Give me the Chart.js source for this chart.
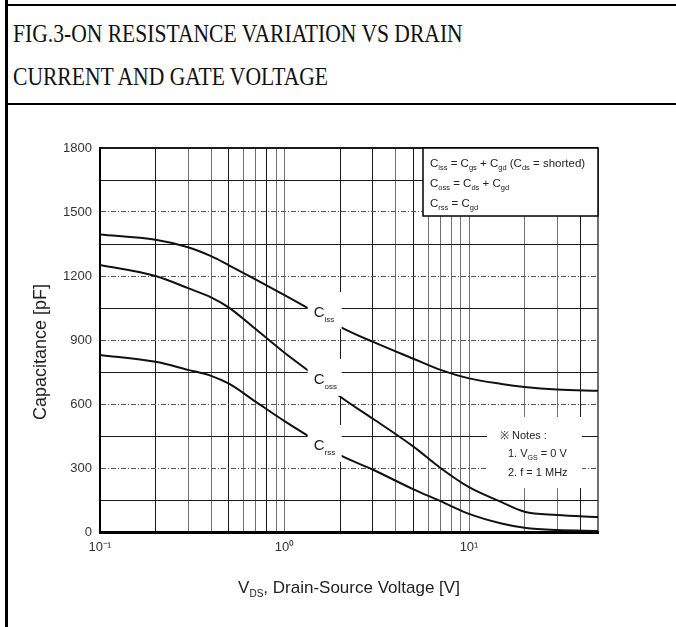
<!DOCTYPE html>
<html lang="en">
<head>
<meta charset="UTF-8">
<title>Capacitance Characteristics</title>
<script src="https://cdn.jsdelivr.net/npm/chart.js"></script>
<style>
  html, body { margin: 0; padding: 0; background: #fff; width: 676px; height: 627px; overflow: hidden; }
  .frame { position: absolute; left: 5px; top: 0; width: 671px; height: 627px; border-left: 3px solid #000; }
  .rule { position: absolute; left: 5px; right: 0; height: 2px; background: #000; }
  .title {
    position: absolute; left: 13px; margin: 0;
    font-family: "Liberation Serif", "Times New Roman", serif; font-size: 26px; line-height: 26px;
    color: #111; white-space: nowrap; transform: scaleX(0.83); transform-origin: left center;
  }
  .chart-box { position: absolute; left: 8px; top: 106px; width: 668px; height: 521px; }
</style>
</head>
<body>
  <div class="frame"></div>
  <div class="rule" style="top:4px"></div>
  <div class="rule" style="top:103px"></div>
  <div class="title" style="top:21px">FIG.3-ON RESISTANCE VARIATION VS DRAIN</div>
  <div class="title" style="top:64px">CURRENT AND GATE VOLTAGE</div>
  <div class="chart-box"><canvas id="capChart" width="668" height="521"></canvas></div>

<script>
  // V_DS [V] and capacitances [pF]
  const voltage = [0.1, 0.2, 0.3, 0.4, 0.5, 0.7, 1, 1.5, 2, 3, 5, 7, 10, 15, 20, 30, 50];
  const ciss = [1395, 1370, 1335, 1293, 1250, 1183, 1110, 1025, 962, 892, 812, 760, 720, 694, 680, 668, 662];
  const coss = [1252, 1200, 1143, 1100, 1052, 950, 840, 725, 635, 532, 400, 300, 210, 140, 95, 80, 70];
  const crss = [830, 798, 760, 732, 695, 610, 520, 425, 360, 293, 200, 145, 85, 40, 20, 9, 5];

  // axis ticks
  const xGrid = [0.1, 0.2, 0.3, 0.4, 0.5, 0.6, 0.7, 0.8, 0.9, 1, 2, 3, 4, 5, 6, 7, 8, 9, 10, 20, 30, 40, 50];
  const xDark = [0.2, 0.5, 0.8, 2, 3, 5, 40];
  const xLabelAt = [0.1, 1, 10];
  const xLabelText = ['10\u207B\u00B9', '10\u2070', '10\u00B9'];
  const yTickLabels = [0, 300, 600, 900, 1200, 1500, 1800];

  const FONT = '"Liberation Sans", Arial, sans-serif';

  const curveLabels = [
    { sub: 'iss', at: 1.63, value: 1040 },
    { sub: 'oss', at: 1.63, value: 727 },
    { sub: 'rss', at: 1.63, value: 417 }
  ];

  // draws text where odd parts are subscripts
  function drawSub(ctx, parts, x, y, size, subSize, drop) {
    parts.forEach((p, i) => {
      const sub = i % 2 === 1;
      ctx.font = (sub ? subSize : size) + 'px ' + FONT;
      ctx.fillText(p, x, sub ? y + drop : y);
      x += ctx.measureText(p).width;
    });
    return x;
  }

  const overlay = {
    id: 'overlay',
    afterDatasetsDraw(chart) {
      const { ctx, chartArea: a, scales: { x, y } } = chart;
      ctx.save();
      ctx.textBaseline = 'alphabetic';

      // curve labels on white patches
      curveLabels.forEach(l => {
        const cx = x.getPixelForValue(l.at);
        const cy = y.getPixelForValue(l.value);
        ctx.fillStyle = '#fff';
        ctx.fillRect(cx - 16, cy - 18, 34, 37);
        ctx.fillStyle = '#222';
        drawSub(ctx, ['C', l.sub], cx - 10, cy + 7, 15, 8, 5);
      });

      // equations box
      const bx = a.right - 175, by = a.top;
      ctx.fillStyle = '#fff';
      ctx.fillRect(bx, by, 175, 68);
      ctx.strokeStyle = '#000';
      ctx.lineWidth = 1.5;
      ctx.strokeRect(bx, by, 175, 68);
      ctx.fillStyle = '#222';
      drawSub(ctx, ['C', 'iss', ' = C', 'gs', ' + C', 'gd', ' (C', 'ds', ' = shorted)'], bx + 7, by + 19, 11.5, 7.5, 3);
      drawSub(ctx, ['C', 'oss', ' = C', 'ds', ' + C', 'gd'], bx + 7, by + 39, 11.5, 7.5, 3);
      drawSub(ctx, ['C', 'rss', ' = C', 'gd'], bx + 7, by + 59, 11.5, 7.5, 3);

      // notes
      const nx = a.right - 111, ny = a.top + 269;
      ctx.fillStyle = '#fff';
      ctx.fillRect(nx, ny, 95, 71);
      ctx.fillStyle = '#222';
      drawSub(ctx, ['\u203B Notes :'], nx + 13, ny + 22, 11, 7, 3);
      drawSub(ctx, ['1. V', 'GS', ' = 0 V'], nx + 21, ny + 40, 11, 7, 3);
      drawSub(ctx, ['2. f = 1 MHz'], nx + 21, ny + 59, 11, 7, 3);

      // x axis title
      const parts = ['V', 'DS', ', Drain-Source Voltage [V]'];
      let w = 0;
      parts.forEach((p, i) => {
        ctx.font = (i === 1 ? 10 : 17) + 'px ' + FONT;
        w += ctx.measureText(p).width;
      });
      ctx.fillStyle = '#222';
      drawSub(ctx, parts, (a.left + a.right) / 2 - w / 2, a.bottom + 61, 17, 10, 4);

      // y axis title
      ctx.translate(a.left - 59, a.top + 204);
      ctx.rotate(-Math.PI / 2);
      ctx.font = '18px ' + FONT;
      ctx.textAlign = 'center';
      ctx.textBaseline = 'middle';
      ctx.fillText('Capacitance [pF]', 0, 0);
      ctx.restore();
    }
  };

  const curve = (vals) => ({
    data: voltage.map((v, i) => ({ x: v, y: vals[i] })),
    borderColor: '#111',
    borderWidth: 2,
    pointRadius: 0,
    fill: false,
    cubicInterpolationMode: 'monotone'
  });

  new Chart(document.getElementById('capChart'), {
    type: 'line',
    data: { datasets: [curve(ciss), curve(coss), curve(crss)] },
    options: {
      responsive: false,
      animation: false,
      layout: { padding: { left: 0, top: 42, right: 78, bottom: 0 } },
      plugins: { legend: { display: false }, tooltip: { enabled: false } },
      scales: {
        x: {
          type: 'logarithmic',
          min: 0.1,
          max: 50,
          afterBuildTicks: s => { s.ticks = xGrid.map(v => ({ value: v })); },
          afterFit: s => { s.height = 95; },
          ticks: {
            autoSkip: false, maxRotation: 0, padding: 8,
            color: '#333', font: { family: FONT, size: 13 },
            callback: v => { const k = xLabelAt.indexOf(v); return k >= 0 ? xLabelText[k] : ''; }
          },
          grid: {
            drawTicks: false,
            color: c => (c.tick && xDark.includes(c.tick.value)) ? '#1a1a1a' : '#707070',
            lineWidth: c => (c.tick && c.tick.value === 50) ? 2 : 1
          },
          border: { color: '#000', width: 3 }
        },
        y: {
          min: 0,
          max: 1800,
          afterFit: s => { s.width = 92; },
          ticks: {
            stepSize: 150, padding: 8,
            color: '#333', font: { family: FONT, size: 13 },
            callback: v => yTickLabels.includes(v) ? String(v) : ''
          },
          grid: {
            drawTicks: false,
            color: c => (c.tick && c.tick.value % 300 === 0 && c.tick.value < 1800) ? '#555' : '#1a1a1a',
            lineWidth: c => (c.tick && c.tick.value === 1800) ? 2 : 1
          },
          border: {
            color: '#000', width: 2,
            dash: c => (c.type === 'tick' && c.tick.value % 300 === 0 && c.tick.value > 0 && c.tick.value < 1800) ? [5, 2, 1, 2] : []
          }
        }
      }
    },
    plugins: [overlay]
  });
</script>
</body>
</html>
